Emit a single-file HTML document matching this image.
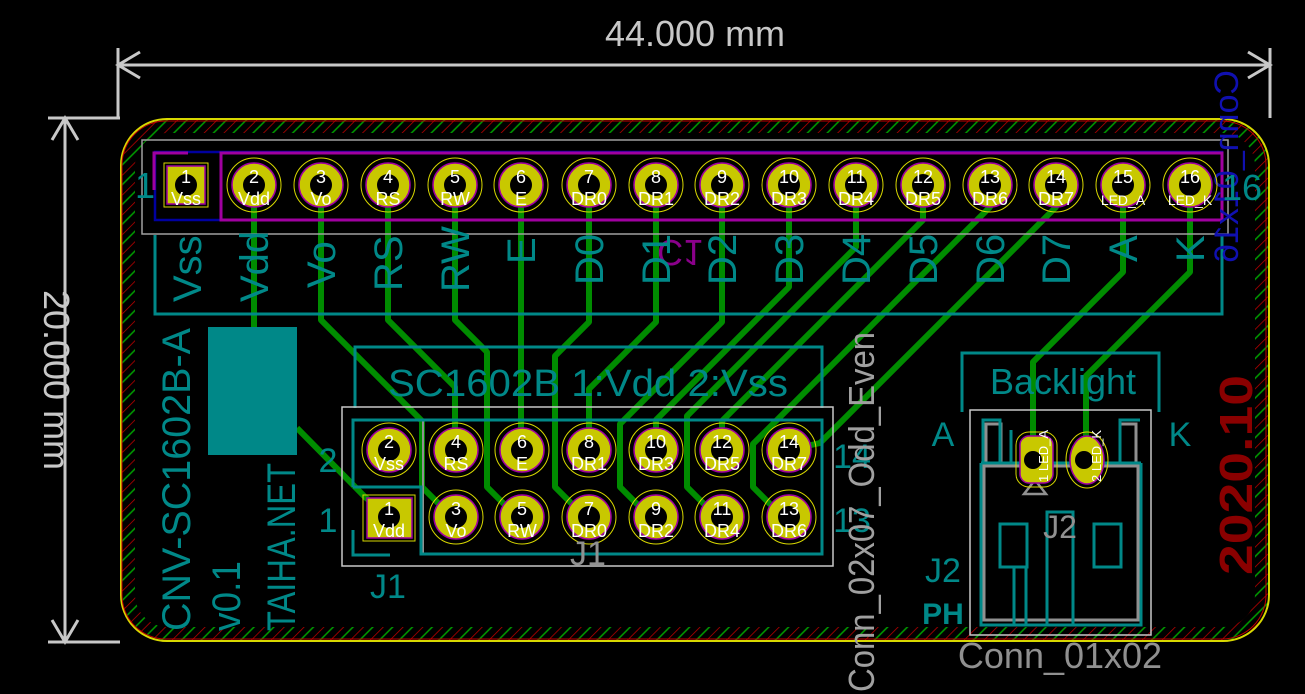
<!DOCTYPE html>
<html><head><meta charset="utf-8"><style>
html,body{margin:0;padding:0;background:#000;overflow:hidden}
svg{display:block}
text{font-family:"Liberation Sans",sans-serif}
</style></head><body>
<svg width="1305" height="694" viewBox="0 0 1305 694" xmlns="http://www.w3.org/2000/svg">
<defs>
<pattern id="hatch" width="14" height="14" patternUnits="userSpaceOnUse" patternTransform="rotate(45)">
<line x1="0" y1="0" x2="0" y2="14" stroke="#c00000" stroke-width="1.5"/>
<line x1="7" y1="0" x2="7" y2="14" stroke="#00a000" stroke-width="1.5"/>
</pattern>
</defs>
<rect width="1305" height="694" fill="#000"/>

<rect x="128" y="126" width="1134" height="508" rx="40" fill="none" stroke="url(#hatch)" stroke-width="14"/>
<rect x="121" y="119" width="1148" height="522" rx="46" fill="none" stroke="#d8d800" stroke-width="2"/>
<rect x="122" y="121" width="1144" height="518" rx="44" fill="none" stroke="#c00000" stroke-width="1"/>

<g stroke="#c8c8c8" stroke-width="3" fill="none">
<line x1="118" y1="65" x2="1270" y2="65"/>
<line x1="118" y1="48" x2="118" y2="118"/>
<line x1="1270" y1="48" x2="1270" y2="118"/>
<polyline points="140,52 118,65 140,78"/>
<polyline points="1248,52 1270,65 1248,78"/>
<line x1="65" y1="118" x2="65" y2="642"/>
<line x1="48" y1="118" x2="120" y2="118"/>
<line x1="48" y1="642" x2="120" y2="642"/>
<polyline points="52,140 65,118 78,140"/>
<polyline points="52,620 65,642 78,620"/>
</g>
<text x="695" y="46" fill="#c8c8c8" font-size="36" text-anchor="middle" font-family="Liberation Mono">44.000 mm</text>
<text transform="translate(44,380) rotate(90)" fill="#c8c8c8" font-size="36" text-anchor="middle" font-family="Liberation Mono">20.000 mm</text>

<g stroke="#008c00" stroke-width="6" fill="none" stroke-linejoin="round">
<polyline points="254,185 254,330"/>
<polyline points="297,428 365,497 389,517"/>
<polyline points="321,185 321,320 422,421 422,487 452,517"/>
<polyline points="388,185 388,320 455,387 455,450"/>
<polyline points="455,185 455,320 487,352 487,487 517,517"/>
<polyline points="521,185 521,450"/>
<polyline points="589,185 589,322 555,356 555,487 585,517"/>
<polyline points="656,185 656,322 589,389 589,450"/>
<polyline points="722,185 722,322 620,424 620,487 650,517"/>
<polyline points="789,185 789,287 656,420 656,450"/>
<polyline points="856,185 856,247 687,416 687,487 717,517"/>
<polyline points="923,185 923,220 722,421 722,450"/>
<polyline points="990,185 990,207 753,444 753,487 783,517"/>
<polyline points="1056,185 1056,207 820,443 789,450"/>
<polyline points="1123,185 1123,272 1033,362 1033,455"/>
<polyline points="1190,185 1190,272 1086,376 1086,455"/>
</g>

<rect x="142" y="140" width="1086" height="94" fill="none" stroke="#a0a0a0" stroke-width="1.5"/>
<rect x="155" y="152" width="1067" height="68" fill="none" stroke="#0000a0" stroke-width="2.5"/>
<rect x="221" y="153" width="1001" height="67" fill="none" stroke="#a000a0" stroke-width="3"/>
<polyline points="154,190 154,153 188,153" fill="none" stroke="#a000a0" stroke-width="3"/>
<polyline points="155,235 155,314 1222,314 1222,235" fill="none" stroke="#008888" stroke-width="3"/>

<text transform="translate(680,240) rotate(180) scale(-1,1)" fill="#8a008a" font-size="36" text-anchor="middle">C1</text>
<text transform="translate(1238,70) rotate(90) scale(1,-1)" fill="#1010b0" font-size="34" font-family="Liberation Mono">Conn_01x16</text>

<g font-family="Liberation Mono" font-size="18" fill="#fff" text-anchor="middle">
<rect x="164" y="163" width="44" height="44" fill="none" stroke="#d8d800" stroke-width="1"/>
<rect x="167" y="166" width="38" height="38" fill="#c8c800" stroke="#a000a0" stroke-width="1.5"/>
<circle cx="186" cy="185" r="11" fill="#000"/>
<text x="186" y="183">1</text><text x="186" y="205">Vss</text>
</g>
<g font-family="Liberation Mono" font-size="18" fill="#fff" text-anchor="middle">
<g><circle cx="254" cy="185" r="27" fill="none" stroke="#d8d800" stroke-width="1"/><circle cx="254" cy="185" r="22" fill="#c8c800" stroke="#a000a0" stroke-width="1.5"/><circle cx="254" cy="185" r="11" fill="#000"/><text x="254" y="183">2</text><text x="254" y="205">Vdd</text></g>
<g><circle cx="321" cy="185" r="27" fill="none" stroke="#d8d800" stroke-width="1"/><circle cx="321" cy="185" r="22" fill="#c8c800" stroke="#a000a0" stroke-width="1.5"/><circle cx="321" cy="185" r="11" fill="#000"/><text x="321" y="183">3</text><text x="321" y="205">Vo</text></g>
<g><circle cx="388" cy="185" r="27" fill="none" stroke="#d8d800" stroke-width="1"/><circle cx="388" cy="185" r="22" fill="#c8c800" stroke="#a000a0" stroke-width="1.5"/><circle cx="388" cy="185" r="11" fill="#000"/><text x="388" y="183">4</text><text x="388" y="205">RS</text></g>
<g><circle cx="455" cy="185" r="27" fill="none" stroke="#d8d800" stroke-width="1"/><circle cx="455" cy="185" r="22" fill="#c8c800" stroke="#a000a0" stroke-width="1.5"/><circle cx="455" cy="185" r="11" fill="#000"/><text x="455" y="183">5</text><text x="455" y="205">RW</text></g>
<g><circle cx="521" cy="185" r="27" fill="none" stroke="#d8d800" stroke-width="1"/><circle cx="521" cy="185" r="22" fill="#c8c800" stroke="#a000a0" stroke-width="1.5"/><circle cx="521" cy="185" r="11" fill="#000"/><text x="521" y="183">6</text><text x="521" y="205">E</text></g>
<g><circle cx="589" cy="185" r="27" fill="none" stroke="#d8d800" stroke-width="1"/><circle cx="589" cy="185" r="22" fill="#c8c800" stroke="#a000a0" stroke-width="1.5"/><circle cx="589" cy="185" r="11" fill="#000"/><text x="589" y="183">7</text><text x="589" y="205">DR0</text></g>
<g><circle cx="656" cy="185" r="27" fill="none" stroke="#d8d800" stroke-width="1"/><circle cx="656" cy="185" r="22" fill="#c8c800" stroke="#a000a0" stroke-width="1.5"/><circle cx="656" cy="185" r="11" fill="#000"/><text x="656" y="183">8</text><text x="656" y="205">DR1</text></g>
<g><circle cx="722" cy="185" r="27" fill="none" stroke="#d8d800" stroke-width="1"/><circle cx="722" cy="185" r="22" fill="#c8c800" stroke="#a000a0" stroke-width="1.5"/><circle cx="722" cy="185" r="11" fill="#000"/><text x="722" y="183">9</text><text x="722" y="205">DR2</text></g>
<g><circle cx="789" cy="185" r="27" fill="none" stroke="#d8d800" stroke-width="1"/><circle cx="789" cy="185" r="22" fill="#c8c800" stroke="#a000a0" stroke-width="1.5"/><circle cx="789" cy="185" r="11" fill="#000"/><text x="789" y="183">10</text><text x="789" y="205">DR3</text></g>
<g><circle cx="856" cy="185" r="27" fill="none" stroke="#d8d800" stroke-width="1"/><circle cx="856" cy="185" r="22" fill="#c8c800" stroke="#a000a0" stroke-width="1.5"/><circle cx="856" cy="185" r="11" fill="#000"/><text x="856" y="183">11</text><text x="856" y="205">DR4</text></g>
<g><circle cx="923" cy="185" r="27" fill="none" stroke="#d8d800" stroke-width="1"/><circle cx="923" cy="185" r="22" fill="#c8c800" stroke="#a000a0" stroke-width="1.5"/><circle cx="923" cy="185" r="11" fill="#000"/><text x="923" y="183">12</text><text x="923" y="205">DR5</text></g>
<g><circle cx="990" cy="185" r="27" fill="none" stroke="#d8d800" stroke-width="1"/><circle cx="990" cy="185" r="22" fill="#c8c800" stroke="#a000a0" stroke-width="1.5"/><circle cx="990" cy="185" r="11" fill="#000"/><text x="990" y="183">13</text><text x="990" y="205">DR6</text></g>
<g><circle cx="1056" cy="185" r="27" fill="none" stroke="#d8d800" stroke-width="1"/><circle cx="1056" cy="185" r="22" fill="#c8c800" stroke="#a000a0" stroke-width="1.5"/><circle cx="1056" cy="185" r="11" fill="#000"/><text x="1056" y="183">14</text><text x="1056" y="205">DR7</text></g>
<g><circle cx="1123" cy="185" r="27" fill="none" stroke="#d8d800" stroke-width="1"/><circle cx="1123" cy="185" r="22" fill="#c8c800" stroke="#a000a0" stroke-width="1.5"/><circle cx="1123" cy="185" r="11" fill="#000"/><text x="1123" y="183">15</text><text x="1123" y="205" font-size="14">LED_A</text></g>
<g><circle cx="1190" cy="185" r="27" fill="none" stroke="#d8d800" stroke-width="1"/><circle cx="1190" cy="185" r="22" fill="#c8c800" stroke="#a000a0" stroke-width="1.5"/><circle cx="1190" cy="185" r="11" fill="#000"/><text x="1190" y="183">16</text><text x="1190" y="205" font-size="14">LED_K</text></g>
</g>
<text x="145" y="198" fill="#008888" font-size="36" text-anchor="middle">1</text>
<text x="1242" y="200" fill="#008888" font-size="36" text-anchor="middle">16</text>

<g fill="#008888" font-size="40">
<text transform="translate(201,302) rotate(-90)">Vss</text>
<text transform="translate(268,302) rotate(-90)">Vdd</text>
<text transform="translate(335,288) rotate(-90)">Vo</text>
<text transform="translate(402,291) rotate(-90)">RS</text>
<text transform="translate(469,292) rotate(-90)">RW</text>
<text transform="translate(535,264) rotate(-90)">E</text>
<text transform="translate(603,285) rotate(-90)">D0</text>
<text transform="translate(670,285) rotate(-90)">D1</text>
<text transform="translate(736,285) rotate(-90)">D2</text>
<text transform="translate(803,285) rotate(-90)">D3</text>
<text transform="translate(870,285) rotate(-90)">D4</text>
<text transform="translate(937,285) rotate(-90)">D5</text>
<text transform="translate(1004,285) rotate(-90)">D6</text>
<text transform="translate(1070,285) rotate(-90)">D7</text>
<text transform="translate(1137,262) rotate(-90)">A</text>
<text transform="translate(1204,262) rotate(-90)">K</text>
</g>

<rect x="208" y="327" width="89" height="128" fill="#008888"/>
<g fill="#008888" font-size="40">
<text transform="translate(190,631) rotate(-90)" textLength="303" lengthAdjust="spacingAndGlyphs">CNV-SC1602B-A</text>
<text transform="translate(240,631) rotate(-90)" textLength="70" lengthAdjust="spacingAndGlyphs">v0.1</text>
<text transform="translate(295,631) rotate(-90)" textLength="168" lengthAdjust="spacingAndGlyphs">TAIHA.NET</text>
</g>

<polyline points="355,408 355,347 822,347 822,408" fill="none" stroke="#008888" stroke-width="3"/>
<text x="588" y="396" fill="#008888" font-size="38" text-anchor="middle" font-family="Liberation Mono" textLength="400" lengthAdjust="spacingAndGlyphs">SC1602B  1:Vdd 2:Vss</text>
<rect x="342" y="407" width="491" height="159" fill="none" stroke="#c8c8c8" stroke-width="1.5"/>
<rect x="423" y="420" width="399" height="134" fill="none" stroke="#909090" stroke-width="2"/>
<polyline points="353,487 353,420 822,420 822,554 421,554 421,487 353,487" fill="none" stroke="#008888" stroke-width="3"/>
<polyline points="353,530 353,555 390,555" fill="none" stroke="#008888" stroke-width="3"/>
<g font-family="Liberation Mono" font-size="18" fill="#fff" text-anchor="middle">
<rect x="363" y="495" width="52" height="46" fill="none" stroke="#d8d800" stroke-width="1"/>
<rect x="367" y="498" width="45" height="40" fill="#c8c800" stroke="#a000a0" stroke-width="1.5"/>
<circle cx="389" cy="517" r="11" fill="#000"/><text x="389" y="515">1</text><text x="389" y="537">Vdd</text>
<g><circle cx="389" cy="450" r="27" fill="none" stroke="#d8d800" stroke-width="1"/><circle cx="389" cy="450" r="22" fill="#c8c800" stroke="#a000a0" stroke-width="1.5"/><circle cx="389" cy="450" r="11" fill="#000"/><text x="389" y="448">2</text><text x="389" y="470">Vss</text></g>
<g><circle cx="456" cy="450" r="27" fill="none" stroke="#d8d800" stroke-width="1"/><circle cx="456" cy="450" r="22" fill="#c8c800" stroke="#a000a0" stroke-width="1.5"/><circle cx="456" cy="450" r="11" fill="#000"/><text x="456" y="448">4</text><text x="456" y="470">RS</text></g>
<g><circle cx="522" cy="450" r="27" fill="none" stroke="#d8d800" stroke-width="1"/><circle cx="522" cy="450" r="22" fill="#c8c800" stroke="#a000a0" stroke-width="1.5"/><circle cx="522" cy="450" r="11" fill="#000"/><text x="522" y="448">6</text><text x="522" y="470">E</text></g>
<g><circle cx="589" cy="450" r="27" fill="none" stroke="#d8d800" stroke-width="1"/><circle cx="589" cy="450" r="22" fill="#c8c800" stroke="#a000a0" stroke-width="1.5"/><circle cx="589" cy="450" r="11" fill="#000"/><text x="589" y="448">8</text><text x="589" y="470">DR1</text></g>
<g><circle cx="656" cy="450" r="27" fill="none" stroke="#d8d800" stroke-width="1"/><circle cx="656" cy="450" r="22" fill="#c8c800" stroke="#a000a0" stroke-width="1.5"/><circle cx="656" cy="450" r="11" fill="#000"/><text x="656" y="448">10</text><text x="656" y="470">DR3</text></g>
<g><circle cx="722" cy="450" r="27" fill="none" stroke="#d8d800" stroke-width="1"/><circle cx="722" cy="450" r="22" fill="#c8c800" stroke="#a000a0" stroke-width="1.5"/><circle cx="722" cy="450" r="11" fill="#000"/><text x="722" y="448">12</text><text x="722" y="470">DR5</text></g>
<g><circle cx="789" cy="450" r="27" fill="none" stroke="#d8d800" stroke-width="1"/><circle cx="789" cy="450" r="22" fill="#c8c800" stroke="#a000a0" stroke-width="1.5"/><circle cx="789" cy="450" r="11" fill="#000"/><text x="789" y="448">14</text><text x="789" y="470">DR7</text></g>
<g><circle cx="456" cy="517" r="27" fill="none" stroke="#d8d800" stroke-width="1"/><circle cx="456" cy="517" r="22" fill="#c8c800" stroke="#a000a0" stroke-width="1.5"/><circle cx="456" cy="517" r="11" fill="#000"/><text x="456" y="515">3</text><text x="456" y="537">Vo</text></g>
<g><circle cx="522" cy="517" r="27" fill="none" stroke="#d8d800" stroke-width="1"/><circle cx="522" cy="517" r="22" fill="#c8c800" stroke="#a000a0" stroke-width="1.5"/><circle cx="522" cy="517" r="11" fill="#000"/><text x="522" y="515">5</text><text x="522" y="537">RW</text></g>
<g><circle cx="589" cy="517" r="27" fill="none" stroke="#d8d800" stroke-width="1"/><circle cx="589" cy="517" r="22" fill="#c8c800" stroke="#a000a0" stroke-width="1.5"/><circle cx="589" cy="517" r="11" fill="#000"/><text x="589" y="515">7</text><text x="589" y="537">DR0</text></g>
<g><circle cx="656" cy="517" r="27" fill="none" stroke="#d8d800" stroke-width="1"/><circle cx="656" cy="517" r="22" fill="#c8c800" stroke="#a000a0" stroke-width="1.5"/><circle cx="656" cy="517" r="11" fill="#000"/><text x="656" y="515">9</text><text x="656" y="537">DR2</text></g>
<g><circle cx="722" cy="517" r="27" fill="none" stroke="#d8d800" stroke-width="1"/><circle cx="722" cy="517" r="22" fill="#c8c800" stroke="#a000a0" stroke-width="1.5"/><circle cx="722" cy="517" r="11" fill="#000"/><text x="722" y="515">11</text><text x="722" y="537">DR4</text></g>
<g><circle cx="789" cy="517" r="27" fill="none" stroke="#d8d800" stroke-width="1"/><circle cx="789" cy="517" r="22" fill="#c8c800" stroke="#a000a0" stroke-width="1.5"/><circle cx="789" cy="517" r="11" fill="#000"/><text x="789" y="515">13</text><text x="789" y="537">DR6</text></g>
</g>
<g fill="#008888" font-size="34" text-anchor="middle">
<text x="328" y="472">2</text><text x="328" y="532">1</text>
<text x="852" y="468">14</text><text x="852" y="532">13</text>
<text x="388" y="598">J1</text>
</g>
<text x="588" y="565" fill="#909090" font-size="34" text-anchor="middle">J1</text>
<text transform="translate(874,692) rotate(-90)" fill="#a0a0a0" font-size="36" font-family="Liberation Mono" textLength="360" lengthAdjust="spacingAndGlyphs">Conn_02x07_Odd_Even</text>

<polyline points="962,412 962,353 1159,353 1159,412" fill="none" stroke="#008888" stroke-width="3"/>
<text x="1063" y="394" fill="#008888" font-size="36" text-anchor="middle" font-family="Liberation Mono">Backlight</text>
<rect x="970" y="410" width="181" height="225" fill="none" stroke="#c8c8c8" stroke-width="1.5"/>
<g fill="none" stroke="#909090" stroke-width="3">
<polyline points="986,466 986,424 1001,424 1001,466"/>
<polyline points="1120,466 1120,424 1136,424 1136,466"/>
<rect x="984" y="466" width="154" height="154"/>
</g>
<g fill="none" stroke="#008888" stroke-width="3">
<polyline points="981,463 981,625 1141,625 1141,463"/>
<polyline points="981,463 1000,463 1000,420 983,420 983,463"/>
<polyline points="1140,463 1120,463 1120,420 1140,420"/>
<line x1="981" y1="463" x2="1141" y2="463"/>
<polyline points="1011,463 1011,430"/>
<rect x="1000" y="524" width="27" height="43"/>
<rect x="1094" y="524" width="27" height="43"/>
<polyline points="1014,625 1014,567"/>
<polyline points="1047,625 1047,512 1073,512 1073,625"/>
<polyline points="1026,625 1026,567"/>
</g>
<text x="1060" y="538" fill="#909090" font-size="32" text-anchor="middle">J2</text>
<polygon points="1035,480 1024,494 1046,494" fill="none" stroke="#909090" stroke-width="2.5"/>
<g font-family="Liberation Mono" font-size="13" fill="#fff">
<rect x="1016" y="432" width="41" height="55" rx="13" fill="none" stroke="#d8d800" stroke-width="1"/>
<rect x="1020" y="436" width="33" height="47" rx="9" fill="#c8c800" stroke="#a000a0" stroke-width="1.5"/>
<circle cx="1033" cy="460" r="9" fill="#000"/>
<text transform="translate(1048,482) rotate(-90)">1 LED_A</text>
<ellipse cx="1087" cy="460" rx="21" ry="28" fill="none" stroke="#d8d800" stroke-width="1"/>
<ellipse cx="1087" cy="460" rx="17" ry="24" fill="#c8c800" stroke="#a000a0" stroke-width="1.5"/>
<circle cx="1084" cy="460" r="9" fill="#000"/>
<text transform="translate(1101,482) rotate(-90)">2 LED_K</text>
</g>
<g fill="#008888" font-size="34" text-anchor="middle">
<text x="943" y="446">A</text><text x="1180" y="446">K</text>
<text x="943" y="582">J2</text>
<text x="943" y="624" font-weight="bold" font-size="30">PH</text>
</g>
<text x="1060" y="668" fill="#909090" font-size="36" text-anchor="middle" font-family="Liberation Mono">Conn_01x02</text>
<text transform="translate(1252,475) rotate(-90)" fill="#8a0000" font-size="46" font-weight="bold" text-anchor="middle" textLength="200" lengthAdjust="spacingAndGlyphs">2020.10</text>
</svg>
</body></html>
